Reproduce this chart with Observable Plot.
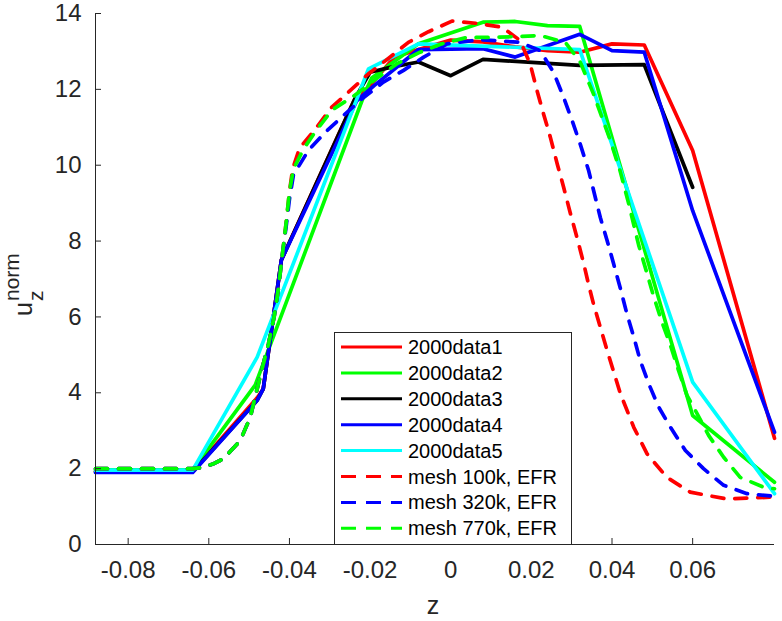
<!DOCTYPE html>
<html>
<head>
<meta charset="utf-8">
<script src="https://cdn.jsdelivr.net/npm/d3@7"></script>
<script src="https://cdn.jsdelivr.net/npm/@observablehq/plot@0.6"></script>
<style>
  html, body { margin: 0; padding: 0; background: #fff; }
  #chart { width: 782px; height: 621px; }
</style>
</head>
<body>
<div id="chart"></div>
<script>
// ---------- data ----------
const X_TICKS = [-0.08, -0.06, -0.04, -0.02, 0, 0.02, 0.04, 0.06];
const X_TICK_LABELS = ["-0.08", "-0.06", "-0.04", "-0.02", "0", "0.02", "0.04", "0.06"];
const Y_TICKS = [0, 2, 4, 6, 8, 10, 12, 14];
const Y_TICK_LABELS = ["0", "2", "4", "6", "8", "10", "12", "14"];
const X_DOMAIN = [-0.0881, 0.0803];
const Y_DOMAIN = [0, 14];

const SERIES_NAMES = ["2000data1", "2000data2", "2000data3", "2000data4", "2000data5",
  "mesh 100k, EFR", "mesh 320k, EFR", "mesh 770k, EFR"];
const SERIES_COLORS = ["#ff0000", "#00ff00", "#000000", "#0000ff", "#00ffff",
  "#ff0000", "#0000ff", "#00ff00"];
const SERIES_DASHED = [false, false, false, false, false, true, true, true];

const data1Z = [-0.0881, -0.064, -0.048, -0.0465, -0.042, -0.024, -0.020, -0.014, -0.008, 0, 0.008, 0.016, 0.024, 0.032, 0.040, 0.048, 0.060, 0.0803];
const data1U = [1.93, 1.93, 3.87, 4.1, 7.5, 11.7, 12.1, 12.85, 13.05, 13.3, 13.25, 13.12, 13.02, 12.98, 13.2, 13.17, 10.39, 2.8];

const data2Z = [-0.0881, -0.064, -0.0485, -0.0212, -0.0196, -0.008, 0.008, 0.016, 0.024, 0.032, 0.060, 0.0803];
const data2U = [1.97, 1.97, 4.2, 11.93, 12.3, 13.2, 13.77, 13.79, 13.68, 13.66, 3.4, 1.64];

const data3Z = [-0.0881, -0.064, -0.048, -0.0465, -0.042, -0.0237, -0.020, -0.015, -0.008, 0, 0.008, 0.032, 0.048, 0.060];
const data3U = [1.92, 1.92, 3.8, 4.1, 7.5, 11.77, 12.45, 12.58, 12.72, 12.36, 12.79, 12.63, 12.65, 9.42];

const data4Z = [-0.0881, -0.064, -0.048, -0.0465, -0.042, -0.0233, -0.019, -0.0138, -0.008, 0.008, 0.016, 0.032, 0.040, 0.048, 0.060, 0.0803];
const data4U = [1.9, 1.9, 3.8, 4.1, 7.5, 11.7, 12.1, 12.55, 13.05, 13.07, 12.85, 13.45, 13.02, 12.98, 8.8, 2.96];

const data5Z = [-0.0881, -0.064, -0.048, -0.0204, -0.008, 0.032, 0.060, 0.0803];
const data5U = [1.96, 1.96, 4.94, 12.54, 13.2, 13.05, 4.28, 1.34];

const mesh100Z = [-0.0881, -0.064, -0.0617, -0.059, -0.0564, -0.0522, -0.0497, -0.0469, -0.0452, -0.0438, -0.0428, -0.0418, -0.0408, -0.0400, -0.0392, -0.0375, -0.0336, -0.0295, -0.0249, -0.0204, -0.0154, -0.0105, -0.0055, 0.0003, 0.0065, 0.0127, 0.0172, 0.0197, 0.0214, 0.0230, 0.0247, 0.0264, 0.0280, 0.0297, 0.0313, 0.0330, 0.0342, 0.0354, 0.0388, 0.0421, 0.0454, 0.0487, 0.0536, 0.0594, 0.0685, 0.0751, 0.0803];
const mesh100U = [2.0, 2.0, 2.03, 2.12, 2.26, 2.74, 3.36, 4.59, 5.29, 6.0, 6.7, 7.6, 8.5, 9.3, 9.9, 10.45, 10.95, 11.53, 11.97, 12.41, 12.82, 13.24, 13.52, 13.8, 13.74, 13.64, 13.29, 12.67, 11.97, 11.36, 10.74, 10.04, 9.42, 8.72, 8.1, 7.4, 6.85, 6.35, 5.11, 3.97, 3.09, 2.39, 1.77, 1.38, 1.2, 1.23, 1.25];

const mesh320Z = [-0.0881, -0.064, -0.0617, -0.059, -0.0564, -0.0522, -0.0497, -0.0469, -0.0452, -0.0438, -0.0428, -0.0418, -0.0408, -0.0400, -0.0390, -0.0353, -0.0311, -0.0266, -0.0220, -0.0167, -0.0117, -0.0067, -0.0009, 0.0073, 0.0172, 0.0222, 0.0255, 0.0280, 0.0301, 0.0321, 0.0342, 0.0371, 0.0388, 0.0404, 0.0421, 0.0437, 0.0454, 0.0470, 0.0491, 0.0516, 0.0545, 0.0582, 0.0627, 0.0677, 0.0735, 0.0803];
const mesh320U = [2.0, 2.0, 2.03, 2.12, 2.26, 2.74, 3.36, 4.59, 5.29, 6.0, 6.7, 7.6, 8.4, 9.1, 9.75, 10.39, 10.87, 11.31, 11.75, 12.19, 12.5, 12.85, 13.2, 13.31, 13.24, 13.02, 12.45, 11.79, 11.18, 10.56, 9.86, 8.62, 8.01, 7.4, 6.74, 6.08, 5.47, 4.85, 4.24, 3.62, 3.09, 2.48, 2.0, 1.56, 1.34, 1.27];

const mesh770Z = [-0.0881, -0.064, -0.0617, -0.059, -0.0564, -0.0522, -0.0497, -0.0469, -0.0452, -0.0438, -0.0428, -0.0418, -0.0408, -0.0400, -0.0390, -0.0365, -0.0336, -0.0295, -0.0241, -0.0185, -0.0134, -0.0076, -0.0022, 0.0040, 0.0098, 0.0160, 0.0222, 0.0284, 0.0320, 0.0354, 0.0396, 0.0420, 0.0441, 0.0466, 0.0487, 0.0503, 0.0524, 0.0545, 0.0565, 0.0586, 0.0611, 0.0640, 0.0677, 0.0718, 0.0776, 0.0803];
const mesh770U = [2.0, 2.0, 2.03, 2.12, 2.26, 2.74, 3.36, 4.59, 5.29, 6.0, 6.7, 7.6, 8.5, 9.3, 9.9, 10.43, 10.88, 11.45, 11.82, 12.28, 12.67, 12.98, 13.2, 13.37, 13.37, 13.39, 13.42, 13.24, 12.75, 11.88, 10.65, 9.85, 9.0, 7.9, 7.14, 6.55, 5.86, 5.25, 4.59, 3.93, 3.45, 2.87, 2.3, 1.77, 1.51, 1.47];

const SERIES_Z = [data1Z, data2Z, data3Z, data4Z, data5Z, mesh100Z, mesh320Z, mesh770Z];
const SERIES_U = [data1U, data2U, data3U, data4U, data5U, mesh100U, mesh320U, mesh770U];

// ---------- build ----------
const FONT = "'Liberation Sans', Arial, Helvetica, sans-serif";
const AXIS_COLOR = "#262626";
const LINE_W = 3.7;
const DASH = "12,11";

const lineMarks = SERIES_NAMES.map((name, i) => {
  const rows = SERIES_Z[i].map((z, j) => ({ series: name, z, u: SERIES_U[i][j] }));
  return Plot.line(rows, {
    x: "z", y: "u",
    stroke: SERIES_COLORS[i],
    strokeWidth: LINE_W,
    strokeDasharray: SERIES_DASHED[i] ? DASH : null,
    strokeLinejoin: "round"
  });
});

const chart = Plot.plot({
  width: 782,
  height: 621,
  marginLeft: 95,
  marginRight: 8,
  marginTop: 13,
  marginBottom: 77,
  style: { fontFamily: FONT, fontSize: "24px", background: "#fff", overflow: "visible" },
  x: { domain: X_DOMAIN, label: null },
  y: { domain: Y_DOMAIN, label: null },
  marks: [
    ...lineMarks,
    Plot.ruleX([X_DOMAIN[0]], { stroke: AXIS_COLOR, strokeWidth: 1 }),
    Plot.ruleY([Y_DOMAIN[0]], { stroke: AXIS_COLOR, strokeWidth: 1 }),
    Plot.axisX({ ticks: X_TICKS, tickFormat: (d) => X_TICK_LABELS[X_TICKS.indexOf(d)], tickSize: -6, tickPadding: 22, color: AXIS_COLOR, label: null, fontSize: 24 }),
    Plot.axisY({ ticks: Y_TICKS, tickFormat: (d) => Y_TICK_LABELS[Y_TICKS.indexOf(d)], tickSize: -6, tickPadding: 20, color: AXIS_COLOR, label: null, fontSize: 24 })
  ]
});

document.getElementById("chart").appendChild(chart);

// ---------- labels & legend ----------
const svg = d3.select(chart);

// x label
svg.append("text")
  .attr("x", 433).attr("y", 614)
  .attr("text-anchor", "middle")
  .attr("font-family", FONT).attr("font-size", 25)
  .attr("fill", AXIS_COLOR)
  .text("z");

// y label  u_z^norm (rotated)
const yl = svg.append("g").attr("transform", "translate(32,316) rotate(-90)")
  .attr("font-family", FONT).attr("fill", AXIS_COLOR).attr("text-anchor", "start");
yl.append("text").attr("x", 0).attr("y", 0).attr("font-size", 25).attr("text-anchor", "start").text("u");
yl.append("text").attr("x", 15).attr("y", 11).attr("font-size", 21).attr("text-anchor", "start").text("z");
yl.append("text").attr("x", 15).attr("y", -13).attr("font-size", 21).attr("text-anchor", "start").text("norm");

// legend
const LEG_X = 334, LEG_Y = 332, LEG_W = 237, LEG_H = 212;
const ROW0 = 347, ROW_STEP = 25.9;
const lg = svg.append("g").attr("text-anchor", "start");
lg.append("rect")
  .attr("x", LEG_X + 0.5).attr("y", LEG_Y + 0.5)
  .attr("width", LEG_W).attr("height", LEG_H)
  .attr("fill", "#fff").attr("stroke", AXIS_COLOR).attr("stroke-width", 1);
SERIES_NAMES.forEach((name, i) => {
  const yy = ROW0 + i * ROW_STEP;
  lg.append("line")
    .attr("x1", 341).attr("x2", 402).attr("y1", yy).attr("y2", yy)
    .attr("stroke", SERIES_COLORS[i]).attr("stroke-width", 3)
    .attr("stroke-dasharray", SERIES_DASHED[i] ? "15,10" : null);
  lg.append("text")
    .attr("x", 408).attr("y", yy + 7)
    .attr("text-anchor", "start")
    .attr("font-family", FONT).attr("font-size", 20)
    .attr("fill", "#000")
    .text(name);
});
</script>
</body>
</html>
